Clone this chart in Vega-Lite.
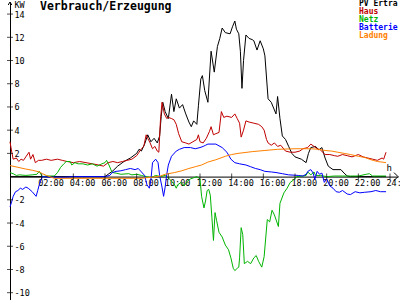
{
  "$schema": "https://vega.github.io/schema/vega-lite/v6.json",
  "width": 388,
  "height": 298,
  "autosize": {"type": "none"},
  "padding": {"left": 10, "top": 2, "right": 2, "bottom": 0},
  "background": "white",
  "config": {
    "view": {"stroke": null},
    "font": "DejaVu Sans Mono",
    "axis": {"labelOverlap": false, "labelFlush": false, "labelBound": false, "ticks": false, "grid": false, "domainColor": "black", "domainWidth": 1, "labelColor": "black", "labelFont": "DejaVu Sans Mono", "labelFontSize": 8.5, "titleFont": "DejaVu Sans Mono", "titleColor": "black", "titleFontWeight": "normal", "tickCount": 40},
    "axisX": {"labelAlign": "left", "labelOffset": -4, "labelBaseline": "top", "labelPadding": 2},
    "axisY": {"labelAlign": "left", "labelPadding": 4}
  },
  "title": {"text": "Verbrauch/Erzeugung", "anchor": "start", "orient": "top", "frame": "group", "font": "DejaVu Sans Mono", "fontSize": 11.5, "fontWeight": "bold", "color": "black", "dx": 30, "dy": 21.7, "offset": 0, "baseline": "alphabetic"},
  "datasets": {
    "series": [
      {"s":"PV Ertra","t":0,"v":0},{"s":"PV Ertra","t":6.0,"v":0},{"s":"PV Ertra","t":6.2,"v":0.2},{"s":"PV Ertra","t":6.5,"v":0.5},{"s":"PV Ertra","t":6.8,"v":0.9},{"s":"PV Ertra","t":7.2,"v":1.3},{"s":"PV Ertra","t":7.6,"v":1.6},{"s":"PV Ertra","t":8.0,"v":2.0},{"s":"PV Ertra","t":8.15,"v":2.35},{"s":"PV Ertra","t":8.3,"v":2.2},{"s":"PV Ertra","t":8.5,"v":2.8},{"s":"PV Ertra","t":8.7,"v":3.6},{"s":"PV Ertra","t":8.9,"v":3.0},{"s":"PV Ertra","t":9.1,"v":3.3},{"s":"PV Ertra","t":9.3,"v":2.9},{"s":"PV Ertra","t":9.45,"v":3.5},{"s":"PV Ertra","t":9.55,"v":5.2},{"s":"PV Ertra","t":9.65,"v":6.4},{"s":"PV Ertra","t":9.8,"v":5.6},{"s":"PV Ertra","t":10.0,"v":5.0},{"s":"PV Ertra","t":10.2,"v":7.1},{"s":"PV Ertra","t":10.35,"v":5.6},{"s":"PV Ertra","t":10.5,"v":6.7},{"s":"PV Ertra","t":10.7,"v":5.9},{"s":"PV Ertra","t":10.9,"v":6.2},{"s":"PV Ertra","t":11.1,"v":5.4},{"s":"PV Ertra","t":11.3,"v":4.7},{"s":"PV Ertra","t":11.45,"v":4.3},{"s":"PV Ertra","t":11.6,"v":4.8},{"s":"PV Ertra","t":11.8,"v":4.5},{"s":"PV Ertra","t":11.9,"v":6.1},{"s":"PV Ertra","t":12.05,"v":8.4},{"s":"PV Ertra","t":12.15,"v":8.7},{"s":"PV Ertra","t":12.3,"v":7.4},{"s":"PV Ertra","t":12.5,"v":6.4},{"s":"PV Ertra","t":12.7,"v":10.8},{"s":"PV Ertra","t":12.9,"v":9.0},{"s":"PV Ertra","t":13.1,"v":11.2},{"s":"PV Ertra","t":13.25,"v":11.9},{"s":"PV Ertra","t":13.4,"v":12.8},{"s":"PV Ertra","t":13.6,"v":12.4},{"s":"PV Ertra","t":13.9,"v":12.3},{"s":"PV Ertra","t":14.05,"v":12.9},{"s":"PV Ertra","t":14.2,"v":13.4},{"s":"PV Ertra","t":14.3,"v":12.7},{"s":"PV Ertra","t":14.45,"v":12.3},{"s":"PV Ertra","t":14.55,"v":10.8},{"s":"PV Ertra","t":14.65,"v":7.6},{"s":"PV Ertra","t":14.75,"v":10.0},{"s":"PV Ertra","t":14.9,"v":12.2},{"s":"PV Ertra","t":15.1,"v":11.9},{"s":"PV Ertra","t":15.3,"v":11.8},{"s":"PV Ertra","t":15.4,"v":11.7},{"s":"PV Ertra","t":15.6,"v":10.9},{"s":"PV Ertra","t":15.8,"v":11.7},{"s":"PV Ertra","t":16.0,"v":11.0},{"s":"PV Ertra","t":16.1,"v":10.4},{"s":"PV Ertra","t":16.3,"v":6.7},{"s":"PV Ertra","t":16.5,"v":6.4},{"s":"PV Ertra","t":16.8,"v":5.4},{"s":"PV Ertra","t":16.9,"v":6.9},{"s":"PV Ertra","t":17.05,"v":5.0},{"s":"PV Ertra","t":17.2,"v":3.5},{"s":"PV Ertra","t":17.4,"v":3.2},{"s":"PV Ertra","t":17.6,"v":2.6},{"s":"PV Ertra","t":17.8,"v":2.0},{"s":"PV Ertra","t":18.0,"v":1.7},{"s":"PV Ertra","t":18.4,"v":1.5},{"s":"PV Ertra","t":18.7,"v":1.2},{"s":"PV Ertra","t":18.85,"v":2.0},{"s":"PV Ertra","t":19.0,"v":2.5},{"s":"PV Ertra","t":19.3,"v":2.6},{"s":"PV Ertra","t":19.5,"v":2.3},{"s":"PV Ertra","t":19.7,"v":2.5},{"s":"PV Ertra","t":19.9,"v":1.6},{"s":"PV Ertra","t":20.1,"v":0.9},{"s":"PV Ertra","t":20.4,"v":0.6},{"s":"PV Ertra","t":20.9,"v":0.6},{"s":"PV Ertra","t":21.1,"v":0.3},{"s":"PV Ertra","t":21.3,"v":0.05},{"s":"PV Ertra","t":21.5,"v":0},{"s":"PV Ertra","t":23.75,"v":0},

      {"s":"Haus","t":0,"v":3.0},{"s":"Haus","t":0.1,"v":2.2},{"s":"Haus","t":0.2,"v":1.5},{"s":"Haus","t":0.4,"v":1.6},{"s":"Haus","t":0.55,"v":1.3},{"s":"Haus","t":0.7,"v":1.5},{"s":"Haus","t":0.85,"v":1.4},{"s":"Haus","t":1.0,"v":1.7},{"s":"Haus","t":1.2,"v":2.1},{"s":"Haus","t":1.3,"v":1.5},{"s":"Haus","t":1.45,"v":1.9},{"s":"Haus","t":1.6,"v":1.2},{"s":"Haus","t":1.8,"v":1.4},{"s":"Haus","t":2.0,"v":1.4},{"s":"Haus","t":2.3,"v":1.5},{"s":"Haus","t":2.6,"v":1.4},{"s":"Haus","t":3.0,"v":1.5},{"s":"Haus","t":3.3,"v":1.4},{"s":"Haus","t":3.6,"v":1.3},{"s":"Haus","t":4.0,"v":1.2},{"s":"Haus","t":4.4,"v":1.3},{"s":"Haus","t":4.8,"v":1.2},{"s":"Haus","t":5.2,"v":1.1},{"s":"Haus","t":5.6,"v":1.0},{"s":"Haus","t":5.9,"v":0.9},{"s":"Haus","t":6.2,"v":1.2},{"s":"Haus","t":6.5,"v":1.3},{"s":"Haus","t":6.8,"v":1.2},{"s":"Haus","t":7.1,"v":1.3},{"s":"Haus","t":7.4,"v":1.4},{"s":"Haus","t":7.7,"v":1.5},{"s":"Haus","t":8.0,"v":1.8},{"s":"Haus","t":8.15,"v":2.1},{"s":"Haus","t":8.3,"v":2.4},{"s":"Haus","t":8.45,"v":2.6},{"s":"Haus","t":8.6,"v":3.6},{"s":"Haus","t":8.7,"v":3.3},{"s":"Haus","t":8.85,"v":2.9},{"s":"Haus","t":9.0,"v":2.4},{"s":"Haus","t":9.15,"v":2.6},{"s":"Haus","t":9.3,"v":2.2},{"s":"Haus","t":9.4,"v":2.1},{"s":"Haus","t":9.5,"v":4.8},{"s":"Haus","t":9.6,"v":6.4},{"s":"Haus","t":9.75,"v":5.4},{"s":"Haus","t":9.9,"v":5.0},{"s":"Haus","t":10.0,"v":5.1},{"s":"Haus","t":10.2,"v":5.0},{"s":"Haus","t":10.35,"v":4.9},{"s":"Haus","t":10.5,"v":4.5},{"s":"Haus","t":10.65,"v":3.7},{"s":"Haus","t":10.85,"v":3.0},{"s":"Haus","t":11.1,"v":2.9},{"s":"Haus","t":11.3,"v":2.8},{"s":"Haus","t":11.55,"v":3.0},{"s":"Haus","t":11.8,"v":3.2},{"s":"Haus","t":11.9,"v":3.6},{"s":"Haus","t":12.0,"v":3.0},{"s":"Haus","t":12.2,"v":2.9},{"s":"Haus","t":12.4,"v":3.3},{"s":"Haus","t":12.6,"v":3.9},{"s":"Haus","t":12.7,"v":4.3},{"s":"Haus","t":12.85,"v":3.6},{"s":"Haus","t":13.0,"v":3.7},{"s":"Haus","t":13.2,"v":3.8},{"s":"Haus","t":13.35,"v":5.6},{"s":"Haus","t":13.5,"v":5.1},{"s":"Haus","t":13.7,"v":5.2},{"s":"Haus","t":14.0,"v":5.1},{"s":"Haus","t":14.2,"v":5.4},{"s":"Haus","t":14.35,"v":5.0},{"s":"Haus","t":14.5,"v":4.6},{"s":"Haus","t":14.6,"v":3.4},{"s":"Haus","t":14.75,"v":4.0},{"s":"Haus","t":14.9,"v":4.8},{"s":"Haus","t":15.1,"v":4.7},{"s":"Haus","t":15.4,"v":4.6},{"s":"Haus","t":15.7,"v":4.5},{"s":"Haus","t":15.9,"v":4.3},{"s":"Haus","t":16.05,"v":4.0},{"s":"Haus","t":16.2,"v":3.2},{"s":"Haus","t":16.3,"v":2.9},{"s":"Haus","t":16.5,"v":2.7},{"s":"Haus","t":16.7,"v":2.9},{"s":"Haus","t":16.9,"v":2.6},{"s":"Haus","t":17.1,"v":2.7},{"s":"Haus","t":17.4,"v":2.2},{"s":"Haus","t":17.7,"v":2.1},{"s":"Haus","t":18.0,"v":2.1},{"s":"Haus","t":18.3,"v":2.2},{"s":"Haus","t":18.5,"v":2.4},{"s":"Haus","t":18.8,"v":2.5},{"s":"Haus","t":19.0,"v":2.8},{"s":"Haus","t":19.2,"v":2.6},{"s":"Haus","t":19.4,"v":2.4},{"s":"Haus","t":19.6,"v":2.3},{"s":"Haus","t":19.9,"v":1.9},{"s":"Haus","t":20.2,"v":1.9},{"s":"Haus","t":20.5,"v":1.8},{"s":"Haus","t":20.7,"v":1.75},{"s":"Haus","t":21.0,"v":1.9},{"s":"Haus","t":21.3,"v":1.8},{"s":"Haus","t":21.6,"v":1.7},{"s":"Haus","t":22.0,"v":1.9},{"s":"Haus","t":22.3,"v":1.7},{"s":"Haus","t":22.6,"v":1.6},{"s":"Haus","t":22.9,"v":1.5},{"s":"Haus","t":23.2,"v":1.4},{"s":"Haus","t":23.5,"v":1.6},{"s":"Haus","t":23.6,"v":1.5},{"s":"Haus","t":23.75,"v":2.1},

      {"s":"Netz","t":0,"v":0.35},{"s":"Netz","t":0.2,"v":0.25},{"s":"Netz","t":0.4,"v":0.1},{"s":"Netz","t":0.6,"v":0.15},{"s":"Netz","t":1.0,"v":0.1},{"s":"Netz","t":1.4,"v":0.15},{"s":"Netz","t":1.7,"v":0.2},{"s":"Netz","t":1.85,"v":0.45},{"s":"Netz","t":1.95,"v":0.2},{"s":"Netz","t":2.05,"v":0.0},{"s":"Netz","t":2.3,"v":0.05},{"s":"Netz","t":2.8,"v":0.05},{"s":"Netz","t":3.0,"v":0.35},{"s":"Netz","t":3.2,"v":0.8},{"s":"Netz","t":3.4,"v":1.1},{"s":"Netz","t":3.55,"v":1.3},{"s":"Netz","t":3.8,"v":1.3},{"s":"Netz","t":3.9,"v":1.0},{"s":"Netz","t":4.1,"v":1.2},{"s":"Netz","t":4.3,"v":1.1},{"s":"Netz","t":4.6,"v":1.1},{"s":"Netz","t":4.9,"v":1.0},{"s":"Netz","t":5.2,"v":1.1},{"s":"Netz","t":5.5,"v":0.9},{"s":"Netz","t":5.8,"v":1.1},{"s":"Netz","t":6.0,"v":1.2},{"s":"Netz","t":6.1,"v":1.4},{"s":"Netz","t":6.25,"v":1.0},{"s":"Netz","t":6.45,"v":0.35},{"s":"Netz","t":6.7,"v":0.3},{"s":"Netz","t":7.0,"v":0.2},{"s":"Netz","t":7.5,"v":0.25},{"s":"Netz","t":7.7,"v":0.15},{"s":"Netz","t":8.0,"v":0.2},{"s":"Netz","t":8.3,"v":0.1},{"s":"Netz","t":8.6,"v":0.0},{"s":"Netz","t":8.9,"v":-0.1},{"s":"Netz","t":9.2,"v":0.1},{"s":"Netz","t":9.5,"v":0.0},{"s":"Netz","t":9.8,"v":0.1},{"s":"Netz","t":10.0,"v":-0.1},{"s":"Netz","t":10.2,"v":-0.4},{"s":"Netz","t":10.35,"v":-0.6},{"s":"Netz","t":10.5,"v":-1.0},{"s":"Netz","t":10.6,"v":-0.7},{"s":"Netz","t":10.8,"v":-0.5},{"s":"Netz","t":11.0,"v":-0.8},{"s":"Netz","t":11.2,"v":-0.4},{"s":"Netz","t":11.4,"v":-0.2},{"s":"Netz","t":11.6,"v":-0.1},{"s":"Netz","t":11.8,"v":0.0},{"s":"Netz","t":12.0,"v":-0.2},{"s":"Netz","t":12.1,"v":-1.7},{"s":"Netz","t":12.25,"v":-2.7},{"s":"Netz","t":12.35,"v":-2.1},{"s":"Netz","t":12.45,"v":-1.2},{"s":"Netz","t":12.55,"v":-1.1},{"s":"Netz","t":12.65,"v":-1.6},{"s":"Netz","t":12.75,"v":-3.5},{"s":"Netz","t":12.85,"v":-5.5},{"s":"Netz","t":12.95,"v":-3.1},{"s":"Netz","t":13.05,"v":-3.8},{"s":"Netz","t":13.2,"v":-4.8},{"s":"Netz","t":13.4,"v":-5.2},{"s":"Netz","t":13.6,"v":-5.9},{"s":"Netz","t":13.8,"v":-6.3},{"s":"Netz","t":13.95,"v":-7.0},{"s":"Netz","t":14.1,"v":-7.9},{"s":"Netz","t":14.2,"v":-8.1},{"s":"Netz","t":14.35,"v":-7.9},{"s":"Netz","t":14.45,"v":-7.8},{"s":"Netz","t":14.5,"v":-7.0},{"s":"Netz","t":14.6,"v":-4.4},{"s":"Netz","t":14.7,"v":-5.0},{"s":"Netz","t":14.8,"v":-7.5},{"s":"Netz","t":15.0,"v":-7.3},{"s":"Netz","t":15.2,"v":-7.5},{"s":"Netz","t":15.4,"v":-7.0},{"s":"Netz","t":15.55,"v":-6.8},{"s":"Netz","t":15.7,"v":-7.3},{"s":"Netz","t":15.9,"v":-7.8},{"s":"Netz","t":16.05,"v":-6.9},{"s":"Netz","t":16.25,"v":-3.7},{"s":"Netz","t":16.4,"v":-3.9},{"s":"Netz","t":16.55,"v":-2.9},{"s":"Netz","t":16.7,"v":-3.3},{"s":"Netz","t":16.95,"v":-4.3},{"s":"Netz","t":17.05,"v":-2.3},{"s":"Netz","t":17.3,"v":-1.4},{"s":"Netz","t":17.5,"v":-1.0},{"s":"Netz","t":17.7,"v":-0.5},{"s":"Netz","t":17.9,"v":-0.3},{"s":"Netz","t":18.1,"v":0.0},{"s":"Netz","t":18.5,"v":0.05},{"s":"Netz","t":18.7,"v":0.1},{"s":"Netz","t":18.8,"v":0.4},{"s":"Netz","t":19.0,"v":0.15},{"s":"Netz","t":19.2,"v":0.4},{"s":"Netz","t":19.3,"v":0.1},{"s":"Netz","t":19.6,"v":0.1},{"s":"Netz","t":20.0,"v":0.0},{"s":"Netz","t":20.5,"v":0.05},{"s":"Netz","t":21.0,"v":0.05},{"s":"Netz","t":21.5,"v":0.05},{"s":"Netz","t":22.0,"v":0.05},{"s":"Netz","t":22.5,"v":0.2},{"s":"Netz","t":22.7,"v":0.25},{"s":"Netz","t":22.9,"v":0.05},{"s":"Netz","t":23.3,"v":0.05},{"s":"Netz","t":23.75,"v":0.05},

      {"s":"Batterie","t":0,"v":-2.6},{"s":"Batterie","t":0.1,"v":-2.2},{"s":"Batterie","t":0.2,"v":-1.7},{"s":"Batterie","t":0.35,"v":-1.3},{"s":"Batterie","t":0.5,"v":-1.2},{"s":"Batterie","t":0.65,"v":-1.0},{"s":"Batterie","t":0.8,"v":-1.1},{"s":"Batterie","t":1.0,"v":-0.9},{"s":"Batterie","t":1.15,"v":-1.0},{"s":"Batterie","t":1.4,"v":-1.3},{"s":"Batterie","t":1.65,"v":-1.7},{"s":"Batterie","t":1.75,"v":-1.2},{"s":"Batterie","t":1.85,"v":-0.7},{"s":"Batterie","t":1.95,"v":-0.3},{"s":"Batterie","t":2.05,"v":0.0},{"s":"Batterie","t":2.5,"v":-0.05},{"s":"Batterie","t":3.5,"v":-0.05},{"s":"Batterie","t":4.0,"v":0.0},{"s":"Batterie","t":6.0,"v":0.0},{"s":"Batterie","t":6.3,"v":0.1},{"s":"Batterie","t":6.45,"v":0.35},{"s":"Batterie","t":6.7,"v":0.45},{"s":"Batterie","t":7.0,"v":0.5},{"s":"Batterie","t":7.3,"v":0.6},{"s":"Batterie","t":7.6,"v":0.7},{"s":"Batterie","t":7.9,"v":0.6},{"s":"Batterie","t":8.1,"v":0.7},{"s":"Batterie","t":8.3,"v":0.4},{"s":"Batterie","t":8.5,"v":0.1},{"s":"Batterie","t":8.65,"v":-0.7},{"s":"Batterie","t":8.8,"v":-1.0},{"s":"Batterie","t":8.9,"v":-0.3},{"s":"Batterie","t":9.0,"v":1.2},{"s":"Batterie","t":9.2,"v":1.5},{"s":"Batterie","t":9.35,"v":1.2},{"s":"Batterie","t":9.45,"v":0.1},{"s":"Batterie","t":9.6,"v":-0.9},{"s":"Batterie","t":9.7,"v":-1.7},{"s":"Batterie","t":9.8,"v":-0.9},{"s":"Batterie","t":9.9,"v":0.2},{"s":"Batterie","t":10.0,"v":1.0},{"s":"Batterie","t":10.2,"v":1.75},{"s":"Batterie","t":10.5,"v":2.2},{"s":"Batterie","t":10.7,"v":2.35},{"s":"Batterie","t":11.0,"v":2.5},{"s":"Batterie","t":11.4,"v":2.5},{"s":"Batterie","t":11.7,"v":2.4},{"s":"Batterie","t":12.0,"v":2.5},{"s":"Batterie","t":12.2,"v":2.6},{"s":"Batterie","t":12.35,"v":2.7},{"s":"Batterie","t":12.5,"v":2.8},{"s":"Batterie","t":13.0,"v":2.8},{"s":"Batterie","t":13.4,"v":2.5},{"s":"Batterie","t":13.7,"v":2.1},{"s":"Batterie","t":13.95,"v":1.5},{"s":"Batterie","t":14.2,"v":1.2},{"s":"Batterie","t":14.5,"v":1.1},{"s":"Batterie","t":14.9,"v":1.0},{"s":"Batterie","t":15.2,"v":0.85},{"s":"Batterie","t":15.5,"v":0.7},{"s":"Batterie","t":15.8,"v":0.6},{"s":"Batterie","t":16.1,"v":0.45},{"s":"Batterie","t":16.5,"v":0.4},{"s":"Batterie","t":16.8,"v":0.35},{"s":"Batterie","t":17.2,"v":0.25},{"s":"Batterie","t":17.6,"v":0.15},{"s":"Batterie","t":18.2,"v":0.1},{"s":"Batterie","t":18.5,"v":0.05},{"s":"Batterie","t":18.7,"v":0.2},{"s":"Batterie","t":18.85,"v":0.5},{"s":"Batterie","t":19.0,"v":0.6},{"s":"Batterie","t":19.15,"v":0.3},{"s":"Batterie","t":19.25,"v":-0.25},{"s":"Batterie","t":19.4,"v":0.45},{"s":"Batterie","t":19.55,"v":0.2},{"s":"Batterie","t":19.7,"v":0.3},{"s":"Batterie","t":19.85,"v":-0.5},{"s":"Batterie","t":20.0,"v":-0.2},{"s":"Batterie","t":20.2,"v":-0.8},{"s":"Batterie","t":20.4,"v":-1.0},{"s":"Batterie","t":20.6,"v":-1.3},{"s":"Batterie","t":20.8,"v":-1.35},{"s":"Batterie","t":21.0,"v":-1.2},{"s":"Batterie","t":21.3,"v":-1.5},{"s":"Batterie","t":21.5,"v":-1.55},{"s":"Batterie","t":21.8,"v":-1.3},{"s":"Batterie","t":22.1,"v":-1.4},{"s":"Batterie","t":22.4,"v":-1.35},{"s":"Batterie","t":22.8,"v":-1.3},{"s":"Batterie","t":23.1,"v":-1.2},{"s":"Batterie","t":23.4,"v":-1.3},{"s":"Batterie","t":23.75,"v":-1.3},

      {"s":"Ladung","t":0,"v":0.95},{"s":"Ladung","t":0.5,"v":0.8},{"s":"Ladung","t":1.0,"v":0.65},{"s":"Ladung","t":1.4,"v":0.55},{"s":"Ladung","t":1.85,"v":0.4},{"s":"Ladung","t":2.05,"v":0.25},{"s":"Ladung","t":2.3,"v":0.1},{"s":"Ladung","t":2.6,"v":-0.05},{"s":"Ladung","t":2.8,"v":-0.15},{"s":"Ladung","t":8.3,"v":-0.15},{"s":"Ladung","t":8.6,"v":-0.1},{"s":"Ladung","t":9.0,"v":-0.05},{"s":"Ladung","t":9.5,"v":0.05},{"s":"Ladung","t":9.8,"v":0.2},{"s":"Ladung","t":10.0,"v":0.25},{"s":"Ladung","t":10.4,"v":0.35},{"s":"Ladung","t":10.85,"v":0.5},{"s":"Ladung","t":11.3,"v":0.7},{"s":"Ladung","t":11.7,"v":0.85},{"s":"Ladung","t":12.1,"v":1.0},{"s":"Ladung","t":12.5,"v":1.25},{"s":"Ladung","t":13.0,"v":1.45},{"s":"Ladung","t":13.6,"v":1.75},{"s":"Ladung","t":14.0,"v":1.9},{"s":"Ladung","t":14.4,"v":2.0},{"s":"Ladung","t":15.3,"v":2.15},{"s":"Ladung","t":16.1,"v":2.25},{"s":"Ladung","t":16.9,"v":2.35},{"s":"Ladung","t":18.0,"v":2.4},{"s":"Ladung","t":19.0,"v":2.4},{"s":"Ladung","t":19.5,"v":2.35},{"s":"Ladung","t":19.9,"v":2.25},{"s":"Ladung","t":20.3,"v":2.2},{"s":"Ladung","t":20.7,"v":2.1},{"s":"Ladung","t":21.1,"v":2.0},{"s":"Ladung","t":21.5,"v":1.9},{"s":"Ladung","t":22.0,"v":1.75},{"s":"Ladung","t":22.4,"v":1.65},{"s":"Ladung","t":22.8,"v":1.45},{"s":"Ladung","t":23.2,"v":1.3},{"s":"Ladung","t":23.5,"v":1.25},{"s":"Ladung","t":23.75,"v":1.2}
    ],
    "yticks": [{"v":-10},{"v":-8},{"v":-6},{"v":-4},{"v":-2},{"v":2},{"v":4},{"v":6},{"v":8},{"v":10},{"v":12},{"v":14}],
    "xticks": [{"t":2},{"t":4},{"t":6},{"t":8},{"t":10},{"t":12},{"t":14},{"t":16},{"t":18},{"t":20},{"t":22},{"t":24}]
  },
  "layer": [
    {
      "data": {"name": "series"},
      "mark": {"type": "line", "strokeWidth": 1, "interpolate": "linear"},
      "encoding": {
        "x": {"field": "t", "type": "quantitative",
          "scale": {"domain": [0, 24.505], "nice": false, "zero": false},
          "axis": {"orient": "bottom", "offset": -123.4, "values": [2,4,6,8,10,12,14,16,18,20,22,24], "tickCount": 40,
            "labelExpr": "(datum.value < 10 ? '0' : '') + datum.value + ':00'",
            "labelAlign": "left", "labelOffset": -4, "labelBaseline": "top", "labelPadding": 2, "labelOverlap": false,
            "title": "h", "titleX": 376, "titleY": -6, "titleAlign": "left", "titleBaseline": "alphabetic", "titleFontSize": 9}},
        "y": {"field": "v", "type": "quantitative",
          "scale": {"domain": [-10.63, 15.04], "nice": false, "zero": false},
          "axis": {"orient": "right", "offset": -388, "values": [-10,-8,-6,-4,-2,0,2,4,6,8,10,12,14], "tickCount": 40,
            "labelExpr": "datum.value == 0 ? '' : '' + datum.value",
            "labelAlign": "left", "labelPadding": 4, "labelOverlap": false,
            "title": "KW", "titleAngle": 0, "titleX": 4, "titleY": 5.5, "titleAlign": "left", "titleBaseline": "alphabetic", "titleFontSize": 8.5}},
        "color": {"field": "s", "type": "nominal",
          "scale": {"domain": ["PV Ertra", "Haus", "Netz", "Batterie", "Ladung"], "range": ["#000000", "#c00000", "#00b400", "#0000ff", "#ff8000"]},
          "legend": {"orient": "none", "legendX": 341, "legendY": -2, "title": null, "padding": 0, "offset": 0,
            "symbolSize": 0, "symbolStrokeWidth": 0, "symbolOpacity": 0, "labelOffset": 0, "rowPadding": -0.35,
            "labelFont": "DejaVu Sans Mono", "labelFontSize": 8, "labelFontWeight": "bold", "labelLimit": 0, "labelBaseline": "middle",
            "encode": {"labels": {"update": {"fill": {"scale": "color", "field": "value"}}}}}}
      }
    },
    {
      "data": {"name": "yticks"},
      "mark": {"type": "tick", "orient": "horizontal", "size": 6, "thickness": 1, "color": "black"},
      "encoding": {
        "x": {"datum": 0, "type": "quantitative"},
        "y": {"field": "v", "type": "quantitative"}
      }
    },
    {
      "data": {"name": "xticks"},
      "mark": {"type": "tick", "orient": "vertical", "size": 6, "thickness": 1, "color": "black"},
      "encoding": {
        "x": {"field": "t", "type": "quantitative"},
        "y": {"datum": 0, "type": "quantitative"}
      }
    },
    {
      "data": {"values": [{}]},
      "mark": {"type": "point", "shape": "M-0.6,1L0,0L0.6,1", "size": 36, "filled": false, "color": "black", "strokeWidth": 1, "opacity": 1},
      "encoding": {
        "x": {"datum": 0, "type": "quantitative"},
        "y": {"datum": 15.04, "type": "quantitative"}
      }
    },
    {
      "data": {"values": [{}]},
      "mark": {"type": "point", "shape": "M-1,-1L0,0L-1,1", "size": 64, "filled": false, "color": "black", "strokeWidth": 1, "opacity": 1},
      "encoding": {
        "x": {"datum": 24.505, "type": "quantitative"},
        "y": {"datum": 0, "type": "quantitative"}
      }
    }
  ]
}
